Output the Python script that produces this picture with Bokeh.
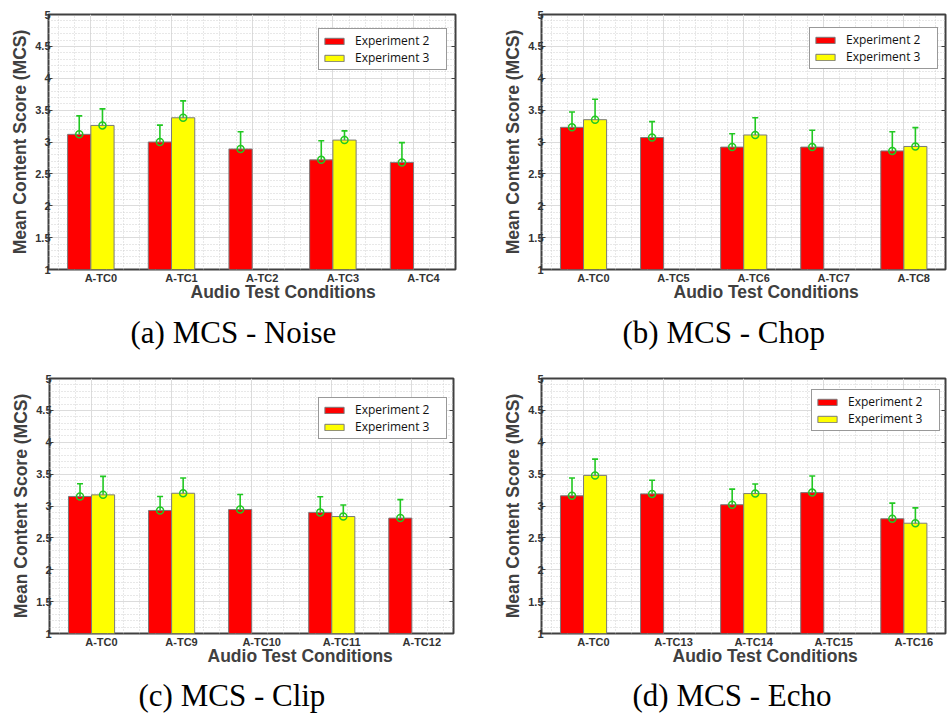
import numpy as np
from bokeh.plotting import figure
from bokeh.layouts import column, row
from bokeh.models import (FixedTicker, Range1d, Title, Whisker, ColumnDataSource,
                          TeeHead, LinearAxis)
from bokeh.core.properties import value
from bokeh.embed import file_html
from bokeh.resources import INLINE

# ---------------- data ----------------
series_names = ["Experiment 2", "Experiment 3"]
y_ticks = [1, 1.5, 2, 2.5, 3, 3.5, 4, 4.5, 5]
y_tick_labels = ["1", "1.5", "2", "2.5", "3", "3.5", "4", "4.5", "5"]

cats_a = ["A-TC0", "A-TC1", "A-TC2", "A-TC3", "A-TC4"]
exp2_a = [3.12, 3.00, 2.89, 2.72, 2.68]
exp2_err_a = [0.29, 0.265, 0.27, 0.30, 0.31]
exp3_a = [3.26, 3.38, None, 3.03, None]
exp3_err_a = [0.26, 0.265, None, 0.145, None]

cats_b = ["A-TC0", "A-TC5", "A-TC6", "A-TC7", "A-TC8"]
exp2_b = [3.23, 3.07, 2.92, 2.92, 2.86]
exp2_err_b = [0.24, 0.25, 0.21, 0.265, 0.30]
exp3_b = [3.35, None, 3.11, None, 2.93]
exp3_err_b = [0.32, None, 0.27, None, 0.295]

cats_c = ["A-TC0", "A-TC9", "A-TC10", "A-TC11", "A-TC12"]
exp2_c = [3.15, 2.93, 2.945, 2.90, 2.81]
exp2_err_c = [0.20, 0.22, 0.235, 0.245, 0.29]
exp3_c = [3.175, 3.20, None, 2.835, None]
exp3_err_c = [0.29, 0.24, None, 0.18, None]

cats_d = ["A-TC0", "A-TC13", "A-TC14", "A-TC15", "A-TC16"]
exp2_d = [3.16, 3.19, 3.02, 3.21, 2.80]
exp2_err_d = [0.28, 0.215, 0.245, 0.26, 0.245]
exp3_d = [3.48, None, 3.195, None, 2.73]
exp3_err_d = [0.255, None, 0.15, None, 0.24]

captions = ["(a) MCS - Noise", "(b) MCS - Chop", "(c) MCS - Clip", "(d) MCS - Echo"]
x_title = "Audio Test Conditions"
y_title = "Mean Content Score (MCS)"

# ---------------- style ----------------
BAR_W = 0.288
LABEL_SHIFT = 0.124
RED = "#ff0000"
YELLOW = "#ffff00"
GREEN = "#22c822"
AXIS_C = "#404040"
SANS = "Liberation Sans"


def make_panel(cats, e2, e2err, e3, e3err, W, H, bl, br, bt, bb, leg_xy, xlab_off):
    p = figure(width=W, height=H, x_range=Range1d(0.475, 5.52), y_range=Range1d(1, 5),
               output_backend="svg", toolbar_location=None,
               min_border_left=bl, min_border_right=br, min_border_top=bt,
               min_border_bottom=bb)
    p.background_fill_color = "white"
    p.border_fill_color = "white"
    p.outline_line_color = AXIS_C
    p.outline_line_width = 2

    n = len(cats)
    xs = np.arange(1, n + 1)

    # bars
    src2 = ColumnDataSource(dict(x=xs - BAR_W / 2, top=e2,
                                 up=[m + e for m, e in zip(e2, e2err)],
                                 lo=[m - e for m, e in zip(e2, e2err)]))
    idx3 = [i for i, v in enumerate(e3) if v is not None]
    src3 = ColumnDataSource(dict(x=[xs[i] + BAR_W / 2 for i in idx3],
                                 top=[e3[i] for i in idx3],
                                 up=[e3[i] + e3err[i] for i in idx3],
                                 lo=[e3[i] - e3err[i] for i in idx3]))
    p.vbar(x="x", top="top", bottom=0, width=BAR_W, source=src2, fill_color=RED,
           line_color="#7a7a7a", line_width=1, legend_label=series_names[0])
    p.vbar(x="x", top="top", bottom=0, width=BAR_W, source=src3, fill_color=YELLOW,
           line_color="#7a7a7a", line_width=1, legend_label=series_names[1])

    for src in (src2, src3):
        w = Whisker(base="x", upper="up", lower="lo", source=src,
                    line_color=GREEN, line_width=1.6,
                    upper_head=TeeHead(size=6, line_color=GREEN, line_width=1.6),
                    lower_head=TeeHead(size=6, line_color=GREEN, line_width=1.6))
        p.add_layout(w)
        p.scatter(x="x", y="top", source=src, marker="circle", size=7,
                  fill_color=None, line_color=GREEN, line_width=1.5)

    # grids
    p.xgrid.ticker = FixedTicker(ticks=list(xs),
                                 minor_ticks=[v for v in np.round(np.arange(0.6, 5.5, 0.2), 2)
                                              if abs(v - round(v)) > 1e-6])
    p.xgrid.grid_line_color = "#dcdcdc"
    p.xgrid.grid_line_width = 1
    p.xgrid.minor_grid_line_color = "#d0d0d0"
    p.xgrid.minor_grid_line_dash = "1 2"
    p.ygrid.ticker = FixedTicker(ticks=y_ticks,
                                 minor_ticks=list(np.round(np.arange(1, 5.001, 0.1), 2)))
    p.ygrid.grid_line_color = "#dcdcdc"
    p.ygrid.grid_line_width = 1
    p.ygrid.minor_grid_line_color = "#d0d0d0"
    p.ygrid.minor_grid_line_dash = "1 2"

    # x axis
    label_pos = [float(x + LABEL_SHIFT) for x in xs]
    xa = p.xaxis[0]
    xa.ticker = FixedTicker(ticks=label_pos)
    xa.major_label_overrides = {pos: c for pos, c in zip(label_pos, cats)}
    xa.major_tick_line_color = None
    xa.minor_tick_line_color = None
    xa.axis_line_color = None
    xa.major_tick_out = 0
    xa.major_tick_in = 0
    xa.major_label_standoff = 2
    xa.major_label_text_font = SANS
    xa.major_label_text_font_style = "bold"
    xa.major_label_text_font_size = "11px"
    xa.major_label_text_color = "#333333"

    # y axis
    ya = p.yaxis[0]
    ya.ticker = FixedTicker(ticks=y_ticks)
    ya.major_label_overrides = {t: l for t, l in zip(y_ticks, y_tick_labels)}
    ya.axis_line_color = None
    ya.minor_tick_line_color = None
    ya.major_tick_line_color = AXIS_C
    ya.major_tick_in = 4
    ya.major_tick_out = 0
    ya.major_label_standoff = -2
    ya.major_label_text_font = SANS
    ya.major_label_text_font_style = "bold"
    ya.major_label_text_font_size = "11px"
    ya.major_label_text_color = "#333333"
    ya.axis_label = y_title
    ya.axis_label_text_font = SANS
    ya.axis_label_text_font_style = "bold"
    ya.axis_label_text_font_size = "17.5px"
    ya.axis_label_text_color = AXIS_C
    ya.axis_label_standoff = 2

    # right-side inward ticks (box style)
    ra = LinearAxis(ticker=FixedTicker(ticks=y_ticks))
    ra.axis_line_color = None
    ra.minor_tick_line_color = None
    ra.major_tick_line_color = AXIS_C
    ra.major_tick_in = 4
    ra.major_tick_out = 0
    ra.major_label_standoff = 0
    ra.major_label_text_font_size = "0px"
    ra.major_label_text_color = None
    p.add_layout(ra, "right")

    # legend
    lg = p.legend[0]
    lg.location = leg_xy
    lg.border_line_color = "#333333"
    lg.border_line_width = 1
    lg.background_fill_color = "white"
    lg.background_fill_alpha = 1
    lg.label_text_font = "Open Sans"
    lg.label_text_font_size = "12px"
    lg.label_text_color = "#111111"
    lg.glyph_width = 24
    lg.glyph_height = 8
    lg.label_height = 14
    lg.label_width = 88
    lg.label_standoff = 9
    lg.spacing = 0
    lg.padding = 3
    lg.margin = 0

    # x-axis title (offset like the reference, pulled up close to the tick labels)
    p.add_layout(Title(text=x_title, align="left", offset=xlab_off, standoff=-14,
                       text_font=SANS, text_font_style="bold", text_font_size="17.5px",
                       text_color=AXIS_C), "below")
    return p


def caption_strip(text, W, H, x_left, center_from_top):
    f = figure(width=W, height=H, x_range=Range1d(0, W), y_range=Range1d(0, H),
               x_axis_type=None, y_axis_type=None, output_backend="svg",
               toolbar_location=None, title_location=None,
               min_border_left=0, min_border_right=0, min_border_top=0,
               min_border_bottom=0)
    f.outline_line_color = None
    f.background_fill_color = "white"
    f.border_fill_color = "white"
    f.grid.visible = False
    f.text(x=[x_left], y=[H - center_from_top], text=[text],
           text_font=value("Liberation Serif"), text_font_size="31px",
           text_color="black", text_baseline="middle", text_align="left")
    return f


pa = make_panel(cats_a, exp2_a, exp2_err_a, exp3_a, exp3_err_a,
                476, 303, 48, 21, 14, 34, (270, 199), 142)
pb = make_panel(cats_b, exp2_b, exp2_err_b, exp3_b, exp3_err_b,
                471, 303, 65, 2, 14, 34, (268, 200), 132)
pc = make_panel(cats_c, exp2_c, exp2_err_c, exp3_c, exp3_err_c,
                476, 312, 49, 23, 23, 34, (269, 194), 158)
pd = make_panel(cats_d, exp2_d, exp2_err_d, exp3_d, exp3_err_d,
                471, 312, 65, 2, 23, 34, (270, 202), 131)

ca = caption_strip(captions[0], 476, 52, 130, 29)
cb = caption_strip(captions[1], 471, 52, 146, 29)
cc = caption_strip(captions[2], 476, 49, 138, 28)
cd = caption_strip(captions[3], 471, 49, 156, 28)

layout = column(row(pa, pb, spacing=0), row(ca, cb, spacing=0),
                row(pc, pd, spacing=0), row(cc, cd, spacing=0), spacing=0)

open("out.html", "w").write(file_html(layout, INLINE))
